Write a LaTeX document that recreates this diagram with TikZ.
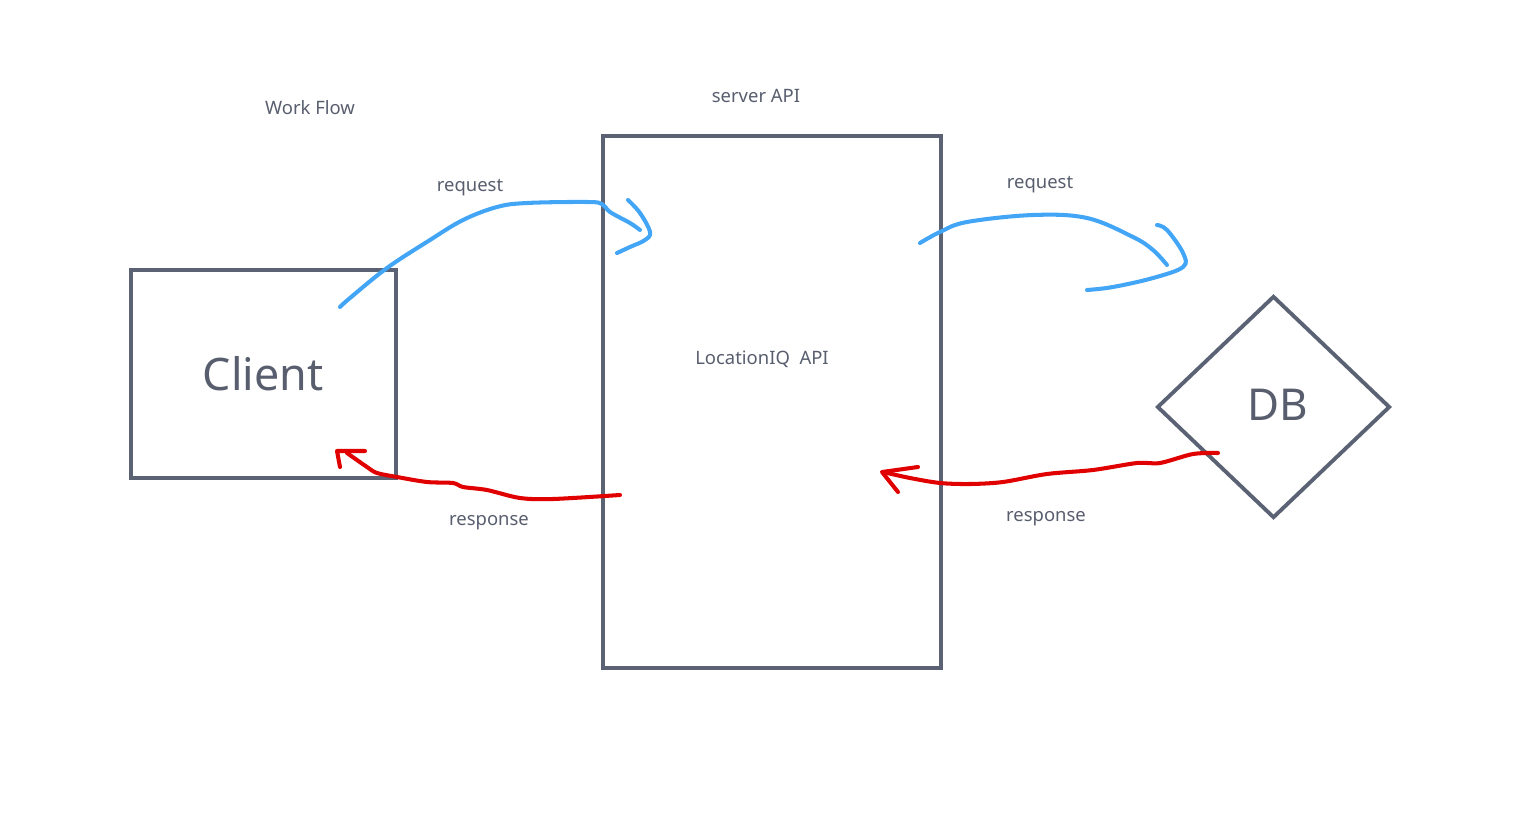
\documentclass[tikz,border=0pt]{standalone}
\usepackage{fontspec}
\setmainfont{Noto Sans}
\usetikzlibrary{shapes.geometric}
\definecolor{boxgray}{RGB}{90,98,116}
\definecolor{textgray}{RGB}{88,94,110}
\definecolor{reqblue}{RGB}{66,165,245}
\definecolor{respred}{RGB}{224,0,0}

\begin{document}
\begin{tikzpicture}[x=0.02cm,y=-0.02cm,
box node/.style={draw=boxgray,line width=2.2pt,inner sep=0pt,text=textgray},
label node/.style={text=textgray,font=\fontsize{10.5}{12}\selectfont},
req line/.style={draw=reqblue,line width=2.3pt,line cap=round,line join=round},
resp line/.style={draw=respred,line width=2.3pt,line cap=round,line join=round}]
\useasboundingbox (0,0) rectangle (1528,818);
\node[box node,rectangle,minimum width=265*0.02cm,minimum height=208*0.02cm,font=\fontsize{25.5}{30}\selectfont] (client) at (263.5,374) {};
\node[text=textgray,font=\fontsize{25.5}{30}\selectfont] (clienttext) at (263,374) {Client};
\node[box node,rectangle,minimum width=338*0.02cm,minimum height=532*0.02cm] (server) at (772,402) {};
\node[label node] (loc) at (762,359) {LocationIQ\ \ API};
\node[box node,diamond,minimum width=233*0.02cm,minimum height=222*0.02cm] (db) at (1273.5,407) {};
\node[text=textgray,font=\fontsize{25}{30}\selectfont] (dbtext) at (1278,405) {DB};
\node[label node] (flow) at (310,108) {Work Flow};
\node[label node] (srv) at (756,96) {server API};
\node[label node] (req1) at (470,188) {request};
\node[label node] (req2) at (1040,185) {request};
\node[label node] (resp1) at (489,523) {response};
\node[label node] (resp2) at (1046,519) {response};
% request strokes
\coordinate (r1a) at (340,307);
\coordinate (r1b) at (640,230);
\coordinate (h1a) at (628,200);
\coordinate (h1b) at (617,253);
\draw[req line] plot[smooth,tension=0.6] coordinates {(r1a) (350,298) (387,268) (430,240) (463,220) (497,207) (527,203) (587,202) (602,204) (610,212) (630,223) (r1b)};
\draw[req line] plot[smooth,tension=0.6] coordinates {(h1a) (640,213) (650,232) (645,240) (630,247) (h1b)};
\coordinate (r2a) at (920,243);
\coordinate (r2b) at (1167,265);
\coordinate (h2a) at (1157,225);
\coordinate (h2b) at (1087,290);
\draw[req line] plot[smooth,tension=0.6] coordinates {(r2a) (940,232) (967,222) (1033,215) (1087,218) (1133,237) (1153,250) (r2b)};
\draw[req line] plot[smooth,tension=0.6] coordinates {(h2a) (1167,230) (1183,253) (1183,267) (1153,278) (1113,287) (h2b)};
% response strokes
\coordinate (p1a) at (620,495);
\coordinate (p1b) at (347,453);
\coordinate (k1a) at (365,451);
\coordinate (k1b) at (340,467);
\draw[resp line] plot[smooth,tension=0.5] coordinates {(p1a) (553,499) (520,498) (487,490) (463,487) (453,483) (427,482) (397,477) (377,473) (367,467) (p1b)};
\draw[resp line] (k1a) -- (337,451) -- (k1b);
\coordinate (p2a) at (1218,453);
\coordinate (p2b) at (883,472);
\coordinate (k2a) at (918,467);
\coordinate (k2b) at (898,492);
\draw[resp line] plot[smooth,tension=0.5] coordinates {(p2a) (1193,454) (1160,463) (1137,463) (1093,470) (1047,474) (1003,482) (970,484) (940,483) (910,478) (p2b)};
\draw[resp line] (k2a) -- (882,472) -- (k2b);
\end{tikzpicture}
\end{document}
